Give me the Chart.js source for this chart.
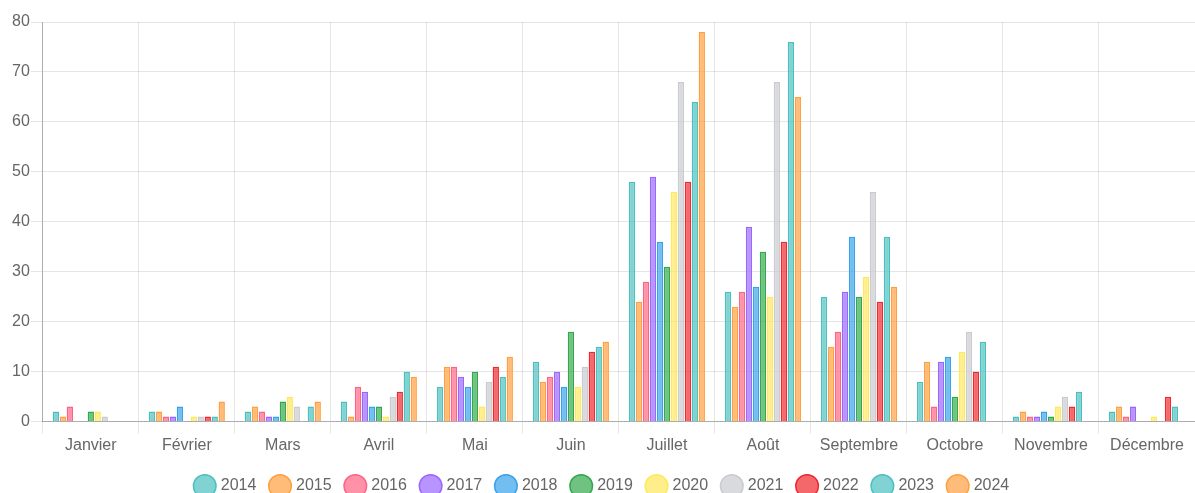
<!DOCTYPE html>
<html>
<head>
<meta charset="utf-8">
<script src="https://cdn.jsdelivr.net/npm/chart.js@4.4.0/dist/chart.umd.min.js"></script>
<style>
  html, body { margin: 0; padding: 0; background: #fff; }
  #wrap { width: 1195px; height: 493px; position: relative; }
</style>
</head>
<body>
<div id="wrap"><canvas id="chart"></canvas></div>
<script>
// ---- Data ----
const months = ['Janvier', 'Février', 'Mars', 'Avril', 'Mai', 'Juin', 'Juillet', 'Août', 'Septembre', 'Octobre', 'Novembre', 'Décembre'];
const years = ['2014', '2015', '2016', '2017', '2018', '2019', '2020', '2021', '2022', '2023', '2024'];

const y2014 = [2, 2, 2, 4, 7, 12, 48, 26, 25, 8, 1, 2];
const y2015 = [1, 2, 3, 1, 11, 8, 24, 23, 15, 12, 2, 3];
const y2016 = [3, 1, 2, 7, 11, 9, 28, 26, 18, 3, 1, 1];
const y2017 = [0, 1, 1, 6, 9, 10, 49, 39, 26, 12, 1, 3];
const y2018 = [0, 3, 1, 3, 7, 7, 36, 27, 37, 13, 2, 0];
const y2019 = [2, 0, 4, 3, 10, 18, 31, 34, 25, 5, 1, 0];
const y2020 = [2, 1, 5, 1, 3, 7, 46, 25, 29, 14, 3, 1];
const y2021 = [1, 1, 3, 5, 8, 11, 68, 68, 46, 18, 5, 0];
const y2022 = [0, 1, 0, 6, 11, 14, 48, 36, 24, 10, 3, 5];
const y2023 = [0, 1, 3, 10, 9, 15, 64, 76, 37, 16, 6, 3];
const y2024 = [0, 4, 4, 9, 13, 16, 78, 65, 27, 0, 0, 0];

const yTicks = [0, 10, 20, 30, 40, 50, 60, 70, 80];

const series = [y2014, y2015, y2016, y2017, y2018, y2019, y2020, y2021, y2022, y2023, y2024];
const colors = [
  [75, 192, 192], [255, 159, 64], [255, 99, 132], [153, 102, 255],
  [54, 162, 235], [50, 168, 75], [255, 232, 90], [201, 203, 207],
  [240, 40, 45], [75, 192, 192], [255, 159, 64]
];

const rgba = (c, a) => `rgba(${c[0]},${c[1]},${c[2]},${a})`;

Chart.defaults.font.family = "'Liberation Sans', Arial, sans-serif";
Chart.defaults.font.size = 16;
Chart.defaults.color = '#666';

new Chart(document.getElementById('chart'), {
  type: 'bar',
  data: {
    labels: months,
    datasets: years.map((y, i) => ({
      label: y,
      data: series[i],
      backgroundColor: rgba(colors[i], 0.7),
      borderColor: rgba(colors[i], 1),
      borderWidth: 1.5,
    }))
  },
  options: {
    responsive: true,
    maintainAspectRatio: false,
    animation: false,
    layout: { padding: { left: 11, top: 22, right: 0, bottom: -11 } },
    plugins: {
      legend: {
        position: 'bottom',
        labels: {
          usePointStyle: true,
          pointStyle: 'circle',
          padding: 15.7,
        }
      },
      tooltip: { enabled: false }
    },
    scales: {
      x: {
        grid: { color: 'rgba(0,0,0,.1)', tickLength: 12 },
        border: { color: 'rgba(0,0,0,.25)' },
        ticks: { padding: 2 },
        afterFit: s => { s.height += 5.5; }
      },
      y: {
        min: 0, max: 80,
        afterBuildTicks: axis => { axis.ticks = yTicks.map(v => ({ value: v })); },
        grid: { color: 'rgba(0,0,0,.1)', tickLength: 12 },
        border: { color: 'rgba(0,0,0,.25)' },
        ticks: { padding: 1 }
      }
    }
  }
});
</script>
</body>
</html>
